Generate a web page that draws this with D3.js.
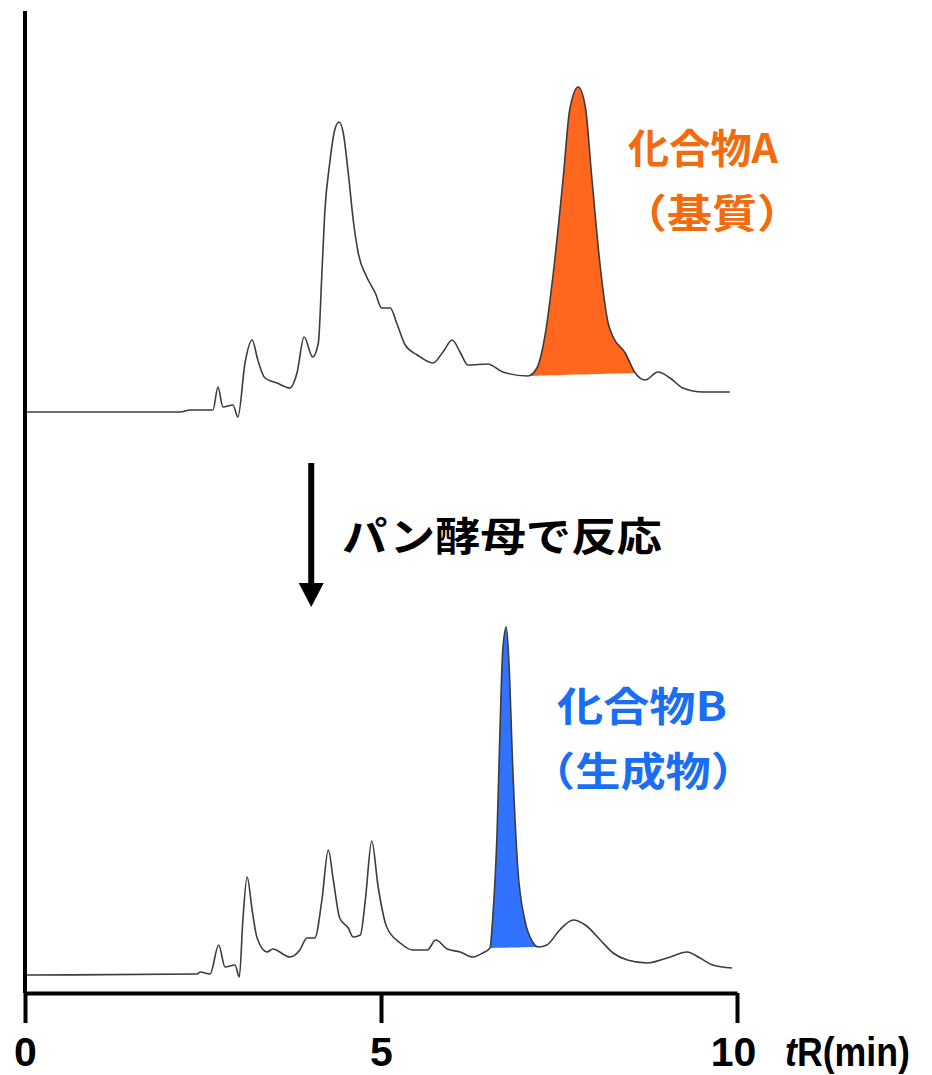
<!DOCTYPE html>
<html>
<head>
<meta charset="utf-8">
<script src="https://cdn.jsdelivr.net/npm/d3@7"></script>
<style>
  body { margin: 0; background: #fff; }
  svg { display: block; }
  .jp { font-family: "Noto Sans CJK JP", sans-serif; font-weight: bold; }
  .num { font-family: "Liberation Sans", Arial, sans-serif; font-weight: bold; }
</style>
</head>
<body>
<div id="chart"></div>
<script>
// retention time (min) and detector signal (arbitrary units)
var topTime = [0.03, 2.18, 2.32, 2.64, 2.71, 2.78, 2.92, 2.99, 3.09, 3.19, 3.27, 3.37, 3.54, 3.72, 3.82, 3.92,
  4.04, 4.12, 4.17, 4.21, 4.28, 4.35, 4.41, 4.47, 4.54, 4.61, 4.68, 4.80, 4.92, 5.01, 5.13, 5.22, 5.34,
  5.51, 5.73, 5.87, 6.00, 6.11, 6.22, 6.50, 6.71, 7.06, 7.19, 7.30, 7.42, 7.56, 7.65, 7.77, 7.87, 7.96,
  8.08, 8.19, 8.26, 8.43, 8.57, 8.71, 8.89, 9.06, 9.24, 9.52, 9.90];
var topSignal = [-1, -1, 1, 1, 24, 4, 6, -6, 48, 71, 51, 33, 28, 23, 38, 74,
  54, 68, 138, 198, 248, 281, 289, 278, 238, 191, 158, 134, 118, 103, 103, 88, 66,
  56, 48, 59, 71, 59, 46, 47, 39, 35, 43, 74, 138, 234, 301, 324, 304, 234,
  144, 88, 74, 58, 38, 31, 39, 33, 23, 19, 19];

var bottomTime = [0.03, 2.42, 2.46, 2.60, 2.72, 2.81, 2.95, 3.01, 3.06, 3.12, 3.19, 3.26, 3.40, 3.48, 3.72,
  3.86, 3.96, 4.07, 4.17, 4.26, 4.33, 4.42, 4.54, 4.61, 4.71, 4.78, 4.87, 4.96, 5.08, 5.27, 5.45, 5.65,
  5.77, 5.93, 6.11, 6.29, 6.43, 6.53, 6.57, 6.63, 6.67, 6.71, 6.76, 6.80, 6.85, 6.92, 7.02, 7.13, 7.21,
  7.33, 7.51, 7.70, 7.87, 8.08, 8.26, 8.46, 8.74, 9.02, 9.30, 9.48, 9.66, 9.93];
var bottomSignal = [0, 1, 3, 1, 30, 8, 10, -2, 55, 98, 65, 37, 23, 26, 18,
  25, 37, 37, 75, 125, 95, 57, 47, 38, 40, 75, 134, 88, 48, 32, 25, 25,
  35, 26, 23, 18, 22, 27, 58, 142, 242, 325, 348, 308, 208, 108, 55, 33, 28,
  30, 45, 55, 50, 35, 22, 15, 12, 17, 23, 17, 10, 7];

// integrated peaks: [start, end] in minutes
var peakA = [7.06, 8.57];
var peakB = [6.53, 7.21];

var xTicks = [0, 5, 10];

var width = 932, height = 1075;

var svg = d3.select("#chart").append("svg")
  .attr("width", width)
  .attr("height", height);

var x = d3.scaleLinear().domain([0, 10]).range([25, 737]);
var yTop = d3.scaleLinear().domain([0, 400]).range([411, 11]);
var yBottom = d3.scaleLinear().domain([0, 400]).range([975, 575]);

var topData = topTime.map(function(t, i) { return {t: t, s: topSignal[i]}; });
var bottomData = bottomTime.map(function(t, i) { return {t: t, s: bottomSignal[i]}; });

// filled peak area, closed by a straight baseline between the start and end points
function drawPeak(data, range, y, color) {
  var pts = data.filter(function(d) { return d.t >= range[0] && d.t <= range[1]; });
  var a = pts[0], b = pts[pts.length - 1];
  var base = d3.scaleLinear().domain([a.t, b.t]).range([a.s, b.s]);
  var area = d3.area()
    .curve(d3.curveMonotoneX)
    .x(function(d) { return x(d.t); })
    .y0(function(d) { return y(base(d.t)); })
    .y1(function(d) { return y(d.s); });
  svg.append("path")
    .datum(pts)
    .attr("d", area)
    .attr("fill", color);
}

drawPeak(topData, peakA, yTop, "#ff671f");
drawPeak(bottomData, peakB, yBottom, "#3173ff");

function drawTrace(data, y) {
  var line = d3.line()
    .curve(d3.curveMonotoneX)
    .x(function(d) { return x(d.t); })
    .y(function(d) { return y(d.s); });
  svg.append("path")
    .datum(data)
    .attr("d", line)
    .attr("fill", "none")
    .attr("stroke", "#3c3c3c")
    .attr("stroke-width", 1.6)
    .attr("stroke-linejoin", "round");
}

drawTrace(topData, yTop);
drawTrace(bottomData, yBottom);

// y axis (no ticks)
svg.append("line")
  .attr("x1", x(0)).attr("x2", x(0))
  .attr("y1", 11).attr("y2", 993)
  .attr("stroke", "#000")
  .attr("stroke-width", 4);

// x axis
var xAxis = svg.append("g")
  .attr("transform", "translate(0,993)")
  .call(d3.axisBottom(x).tickValues(xTicks).tickSize(30).tickSizeOuter(0));
xAxis.select(".domain").attr("stroke", "#000").attr("stroke-width", 4);
xAxis.selectAll(".tick line").attr("stroke", "#000").attr("stroke-width", 4);
xAxis.selectAll(".tick text")
  .attr("class", "num")
  .attr("y", 73)
  .attr("dy", 0)
  .attr("fill", "#000")
  .style("font-size", "41px");
xAxis.selectAll(".tick text").filter(function(d) { return d === 10; }).attr("dx", -4);

var unit = svg.append("text")
  .attr("class", "num")
  .attr("x", 785)
  .attr("y", 1066)
  .attr("textLength", 125)
  .attr("lengthAdjust", "spacingAndGlyphs")
  .style("font-size", "40px")
  .attr("fill", "#000");
unit.append("tspan").style("font-style", "italic").text("t");
unit.append("tspan").text("R(min)");

// reaction arrow
var ax = x(4.02);
svg.append("line")
  .attr("x1", ax).attr("x2", ax)
  .attr("y1", 463).attr("y2", 588)
  .attr("stroke", "#000")
  .attr("stroke-width", 6);
svg.append("path")
  .attr("d", "M" + (ax - 12.5) + ",583L" + (ax + 12.5) + ",583L" + ax + ",607Z")
  .attr("fill", "#000");

svg.append("text")
  .attr("class", "jp")
  .attr("x", 342)
  .attr("y", 551)
  .attr("textLength", 320)
  .attr("lengthAdjust", "spacingAndGlyphs")
  .style("font-size", "40px")
  .attr("fill", "#000")
  .text("パン酵母で反応");

// peak labels
function label(txt, cx, y, len, color) {
  svg.append("text")
    .attr("class", "jp")
    .attr("x", cx)
    .attr("y", y)
    .attr("text-anchor", "middle")
    .attr("textLength", len)
    .attr("lengthAdjust", "spacingAndGlyphs")
    .style("font-size", "40px")
    .attr("fill", color)
    .text(txt);
}

label("化合物A", 703, 163, 150, "#f26b0c");
label("（基質）", 712, 228, 180, "#f26b0c");
label("化合物B", 642, 721, 170, "#1a6ef5");
label("（生成物）", 643, 786, 226, "#1a6ef5");
</script>
</body>
</html>
